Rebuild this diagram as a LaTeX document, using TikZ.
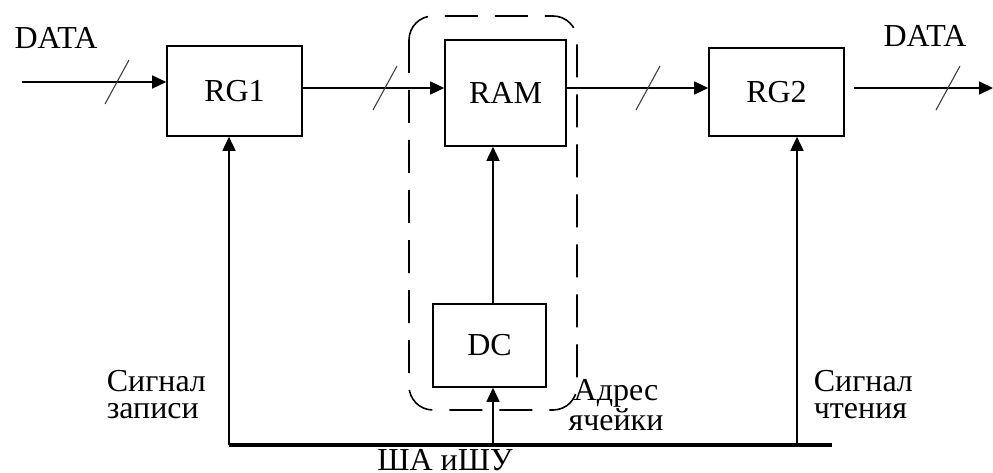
\documentclass[tikz,border=0pt]{standalone}
\usepackage{fontspec}
\setmainfont{Liberation Serif}
\usetikzlibrary{arrows.meta}

\tikzset{
  block/.style={draw, inner sep=0pt},
  lbl/.style={inner sep=0pt, align=left},
  bus/.style={line width=4pt},
  frame/.style={dash pattern=on 33pt off 17pt, rounded corners=24pt},
  bits/.style={line width=1.1pt, black!75},
}

\begin{document}
\begin{tikzpicture}[x=1pt, y=-1pt, line width=1.6pt, >={Triangle[length=14pt,width=13pt]}]
            \fontsize{32}{27}\selectfont
            \useasboundingbox (0,0) rectangle (993,473);

            % blocks
            \node[block, minimum width=135pt, minimum height=90pt]  (RG1) at (234.5,91)  {RG1};
            \node[block, minimum width=121pt, minimum height=106pt] (RAM) at (505.5,93)  {RAM};
            \node[block, minimum width=135pt, minimum height=88pt]  (RG2) at (776.5,92)  {RG2};
            \node[block, minimum width=113pt, minimum height=83pt]  (DC)  at (489.5,345.5) {DC};

            % memory frame
            \draw[frame] (409,16) rectangle (577,410);

            % data path
            \coordinate (in)   at (22,82);
            \coordinate (row)  at (0,88);
            \coordinate (out)  at (993,88);
            \draw [->] (in) -- (in -| RG1.west);
            \draw [->] (RG1.east |- row) -- (RAM.west |- row);
            \draw [->] (RAM.east |- row) -- (RG2.west |- row);
            \draw [->] ([xshift=9pt]RG2.east |- row) -- (out);
            \foreach \x/\y in {117/82, 385/88, 648/88, 948/88}
                \draw [bits] (\x-12,\y+22) -- (\x+12,\y-22);

            % control bus
            \coordinate (wr)   at (229,445);
            \coordinate (addr) at (493,445);
            \coordinate (rd)   at (797,445);
            \coordinate (busR) at (832,445);
            \draw [bus] (wr) -- (busR);
            \draw [->] (wr) -- (wr |- RG1.south);
            \draw [->] (rd) -- (rd |- RG2.south);
            \draw [->] (addr) -- (addr |- DC.south);
            \draw [->] (addr |- DC.north) -- (addr |- RAM.south);

            % labels
            \node[lbl] (din)  at (56,38)  {DATA};
            \node[lbl] (dout) at (925,36) {DATA};
            \node[lbl, anchor=north west] (wrl)  at (106,370) {Сигнал\\записи};
            \node[lbl, anchor=north west] (rdl)  at (813,370) {Сигнал\\чтения};
            \node[lbl, align=center, anchor=north] (adl) at (616,379) {Адрес\\ячейки};
            \node[lbl, anchor=north] (busl) at (445,449) {ША иШУ};
        \end{tikzpicture}
\end{document}
